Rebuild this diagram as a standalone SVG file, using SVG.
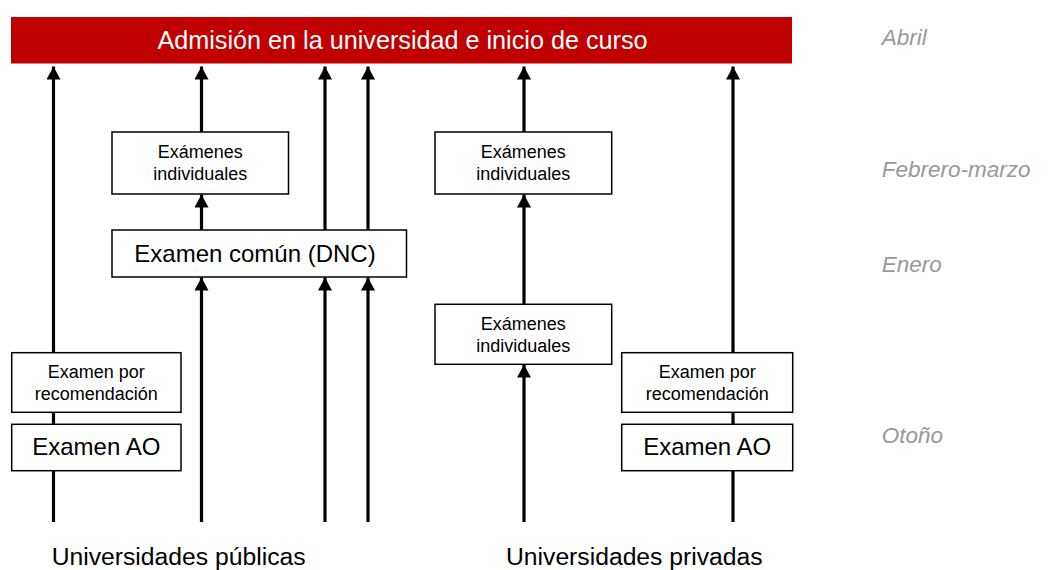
<svg xmlns="http://www.w3.org/2000/svg" width="1049" height="570" viewBox="0 0 1049 570">
<style>
.box{fill:#fff;stroke:#000;stroke-width:1.5}
.sm{font-family:"Liberation Sans",Arial,sans-serif;font-size:18px;fill:#000;text-anchor:middle}
.lg{font-family:"Liberation Sans",Arial,sans-serif;font-size:24px;fill:#000;text-anchor:middle}
.lbl{font-family:"Liberation Sans",Arial,sans-serif;font-size:24.7px;fill:#000}
.mon{font-family:"Liberation Sans",Arial,sans-serif;font-size:22.5px;font-style:italic;fill:#999}
.ln{stroke:#000;stroke-width:3.2;fill:none}
.ar{stroke:#000;stroke-width:3.2;fill:none;marker-end:url(#ah)}
</style>
<defs>
<marker id="ah" markerUnits="userSpaceOnUse" markerWidth="14" markerHeight="14" viewBox="0 0 14 14" refX="13" refY="7" orient="auto">
<path d="M0,0 L13,7 L0,14 Z" fill="#000"/>
</marker>
</defs>
<g id="top">
<rect x="11" y="17" width="781" height="46.5" fill="#c00000"/>
<text x="402.5" y="49" font-family="Liberation Sans,Arial,sans-serif" font-size="25.2" fill="#fff" text-anchor="middle">Admisión en la universidad e inicio de curso</text>
</g>
<g id="connectors">
<line class="ln" x1="53.5" y1="522" x2="53.5" y2="470"/>
<line class="ln" x1="53.5" y1="424" x2="53.5" y2="412"/>
<line class="ar" x1="53.5" y1="353" x2="53.5" y2="66.5"/>
<line class="ar" x1="201.5" y1="522" x2="201.5" y2="277.5"/>
<line class="ar" x1="201.5" y1="230" x2="201.5" y2="194.5"/>
<line class="ar" x1="201.5" y1="132" x2="201.5" y2="66.5"/>
<line class="ar" x1="325" y1="522" x2="325" y2="277.5"/>
<line class="ar" x1="325" y1="230" x2="325" y2="66.5"/>
<line class="ar" x1="368" y1="522" x2="368" y2="277.5"/>
<line class="ar" x1="368" y1="230" x2="368" y2="66.5"/>
<line class="ar" x1="524" y1="522" x2="524" y2="364.5"/>
<line class="ar" x1="524" y1="304" x2="524" y2="194.5"/>
<line class="ar" x1="524" y1="132" x2="524" y2="66.5"/>
<line class="ln" x1="733" y1="522" x2="733" y2="470"/>
<line class="ln" x1="733" y1="424" x2="733" y2="412"/>
<line class="ar" x1="733" y1="353" x2="733" y2="66.5"/>
</g>
<g id="pub-indiv">
<rect class="box" x="112" y="132" width="176.5" height="62"/>
<text class="sm" x="200.3" y="158">Exámenes</text>
<text class="sm" x="200.3" y="180">individuales</text>
</g>
<g id="dnc">
<rect class="box" x="112" y="230" width="294.5" height="47"/>
<text class="lg" x="255" y="262" font-size="24.8">Examen común (DNC)</text>
</g>
<g id="pub-rec">
<rect class="box" x="11.7" y="352.7" width="169.3" height="59.6"/>
<text class="sm" x="96.3" y="378.3">Examen por</text>
<text class="sm" x="96.3" y="400">recomendación</text>
</g>
<g id="pub-ao">
<rect class="box" x="11.7" y="424.3" width="169.3" height="46.4"/>
<text class="lg" x="96.3" y="455">Examen AO</text>
</g>
<g id="priv-indiv-top">
<rect class="box" x="435" y="132" width="176.7" height="62"/>
<text class="sm" x="523.3" y="158">Exámenes</text>
<text class="sm" x="523.3" y="180">individuales</text>
</g>
<g id="priv-indiv-low">
<rect class="box" x="435" y="304.3" width="176.7" height="60"/>
<text class="sm" x="523.3" y="330">Exámenes</text>
<text class="sm" x="523.3" y="352">individuales</text>
</g>
<g id="priv-rec">
<rect class="box" x="621.7" y="352.7" width="171" height="59.6"/>
<text class="sm" x="707.2" y="378.3">Examen por</text>
<text class="sm" x="707.2" y="400">recomendación</text>
</g>
<g id="priv-ao">
<rect class="box" x="621.7" y="424.3" width="171" height="46.4"/>
<text class="lg" x="707.2" y="455">Examen AO</text>
</g>
<g id="labels">
<text class="lbl" x="51.7" y="565">Universidades públicas</text>
<text class="lbl" x="506" y="565">Universidades privadas</text>
</g>
<g id="months">
<text class="mon" x="881.7" y="45">Abril</text>
<text class="mon" x="881.7" y="177">Febrero-marzo</text>
<text class="mon" x="881.7" y="272">Enero</text>
<text class="mon" x="881.7" y="443">Otoño</text>
</g>
</svg>
